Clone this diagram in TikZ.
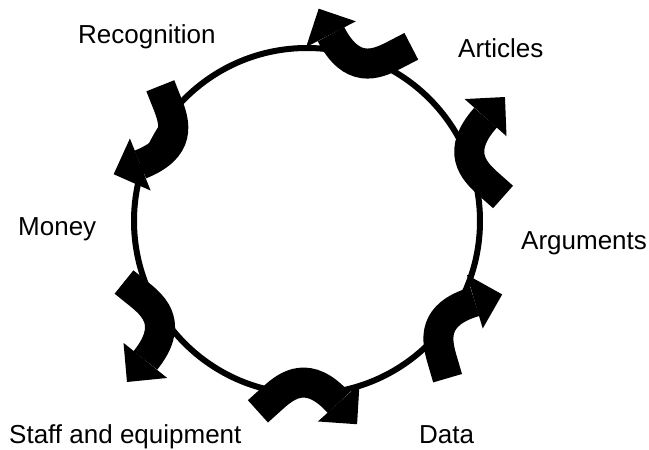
\documentclass[tikz,border=0pt]{standalone}
\usepackage{fontspec}
\setmainfont{Liberation Sans}
\usetikzlibrary{positioning}

\begin{document}
\begin{tikzpicture}[x=1pt,y=1pt]
  \tikzstyle{word}=[font=\fontsize{26}{30}\selectfont,inner sep=0pt,anchor=base west]
  \tikzset{bent/.pic={
    \draw[line width=30pt] (-50,0) -- (-37,15.2)
      .. controls (-24,30.4) and (-5.2,48.25) .. (29,19);
    \fill (10.8,-2.3) -- (50,0) -- (47.2,40.3) -- cycle;
  }}
  \useasboundingbox (0,0) rectangle (649,-450);

  \node[draw,circle,line width=6pt,minimum size=346pt,inner sep=0pt] (ring) at (307,-221) {};

  % arrows round the ring
  \pic[rotate=157.9] (top)  at (365,-27.5) {bent};
  \pic[rotate=88.9]  (ru)   at (504,-147)  {bent};
  \pic[rotate=56.9]  (rl)   at (474.9,-336.3) {bent};
  \pic[rotate=-7.4]  (bot)  at (307.5,-417.8) {bent};
  \pic[rotate=-88.3] (ll)   at (125.5,-332) {bent};
  \pic[rotate=-117.8] (lu)  at (137,-130)  {bent};

  \node[word] (rec) at (78,-43)   {Recognition};
  \node[word] (art) at (458,-57)  {Articles};
  \node[word] (mon) at (18,-235)  {Money};
  \node[word] (arg) at (521,-249) {Arguments};
  \node[word] (sta) at (9,-443)   {Staff and equipment};
  \node[word] (dat) at (419,-443) {Data};
\end{tikzpicture}
\end{document}
